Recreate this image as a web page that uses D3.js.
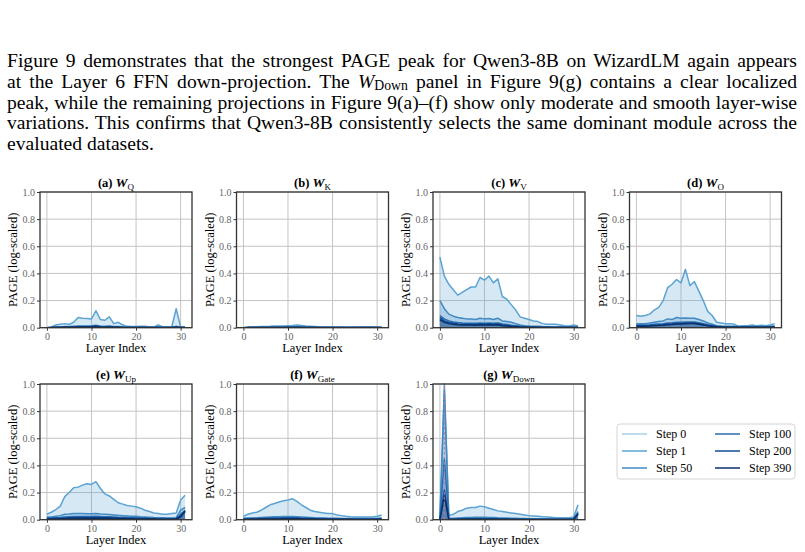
<!DOCTYPE html>
<html>
<head>
<meta charset="utf-8">
<script src="https://cdn.jsdelivr.net/npm/d3@7"></script>
<style>
  body { margin: 0; background: #fff; }
  #page { position: relative; width: 805px; height: 552px; overflow: hidden; }
  #para {
    position: absolute; left: 7px; top: 51px; width: 790px;
    font-family: "Liberation Serif", "Times New Roman", serif;
    font-size: 19.6px; line-height: 20.8px; color: #000;
  }
  #para .ln { text-align: justify; text-align-last: justify; height: 20.8px; }
  #para .ln.last { text-align-last: left; }
  #para sub { font-size: 0.7em; vertical-align: -0.15em; line-height: 0; }
  svg { position: absolute; left: 0; top: 0; }
</style>
</head>
<body>
<div id="page">
  <div id="para"></div>
  <svg id="fig" width="805" height="552"></svg>
</div>
<script>
// paragraph lines (as broken in the reference)
const paraLines = [
  "Figure 9 demonstrates that the strongest PAGE peak for Qwen3-8B on WizardLM again appears",
  "at the Layer 6 FFN down-projection. The <i>W</i><sub>Down</sub> panel in Figure 9(g) contains a clear localized",
  "peak, while the remaining projections in Figure 9(a)–(f) show only moderate and smooth layer-wise",
  "variations. This confirms that Qwen3-8B consistently selects the same dominant module across the",
  "evaluated datasets."
];

const layers = d3.range(32);
const steps = ["Step 0", "Step 1", "Step 50", "Step 100", "Step 200", "Step 390"];
const stepColors = ["#a9cfe6", "#5aa3d3", "#4189c3", "#2b6db0", "#0d4e98", "#08306b"];
const xTicks = [0, 10, 20, 30];
const yTicks = [0, 0.2, 0.4, 0.6, 0.8, 1.0];

const step0 = [0,0,0,0,0,0,0,0,0,0,0,0,0,0,0,0,0,0,0,0,0,0,0,0,0,0,0,0,0,0,0,0];

// (a) W_Q
const qS1   = [0,0.005,0.02,0.025,0.03,0.025,0.04,0.075,0.07,0.068,0.065,0.125,0.06,0.055,0.08,0.03,0.04,0.02,0.01,0.008,0.008,0.01,0.01,0.005,0.005,0.02,0.005,0.005,0.005,0.14,0.005,0.005];
const qS50  = [0,0.002,0.005,0.006,0.008,0.008,0.01,0.012,0.012,0.013,0.014,0.018,0.012,0.01,0.012,0.008,0.008,0.005,0.004,0.003,0.003,0.003,0.003,0.002,0.002,0.004,0.002,0.002,0.002,0.01,0.002,0.002];
const qS100 = [0,0.001,0.003,0.004,0.005,0.005,0.006,0.008,0.008,0.009,0.01,0.012,0.008,0.007,0.008,0.005,0.005,0.003,0.002,0.002,0.002,0.002,0.002,0.001,0.001,0.003,0.001,0.001,0.001,0.006,0.001,0.001];
const qS200 = [0,0.001,0.002,0.003,0.004,0.004,0.005,0.006,0.006,0.007,0.008,0.01,0.006,0.005,0.006,0.004,0.004,0.002,0.002,0.001,0.001,0.001,0.001,0.001,0.001,0.002,0.001,0.001,0.001,0.004,0.001,0.001];
const qS390 = [0,0.001,0.002,0.002,0.003,0.003,0.004,0.005,0.005,0.006,0.006,0.008,0.005,0.004,0.005,0.003,0.003,0.002,0.001,0.001,0.001,0.001,0.001,0.001,0.001,0.002,0.001,0.001,0.001,0.003,0.001,0.001];

// (b) W_K
const kS1   = [0,0.002,0.005,0.006,0.008,0.008,0.01,0.013,0.012,0.013,0.015,0.017,0.02,0.016,0.012,0.01,0.008,0.006,0.004,0.003,0.003,0.003,0.003,0.002,0.002,0.003,0.003,0.004,0.005,0.004,0.002,0.002];
const kS50  = [0,0.001,0.002,0.003,0.003,0.003,0.004,0.005,0.005,0.005,0.006,0.006,0.007,0.006,0.005,0.004,0.003,0.002,0.002,0.001,0.001,0.001,0.001,0.001,0.001,0.001,0.001,0.002,0.002,0.002,0.001,0.001];
const kS100 = [0,0.001,0.001,0.002,0.002,0.002,0.003,0.003,0.003,0.003,0.004,0.004,0.005,0.004,0.003,0.003,0.002,0.002,0.001,0.001,0.001,0.001,0.001,0.001,0.001,0.001,0.001,0.001,0.001,0.001,0.001,0.001];
const kS200 = [0,0.001,0.001,0.001,0.002,0.002,0.002,0.002,0.002,0.002,0.003,0.003,0.003,0.003,0.002,0.002,0.002,0.001,0.001,0.001,0.001,0.001,0.001,0.001,0.001,0.001,0.001,0.001,0.001,0.001,0.001,0.001];
const kS390 = [0,0.001,0.001,0.001,0.001,0.001,0.002,0.002,0.002,0.002,0.002,0.002,0.002,0.002,0.002,0.001,0.001,0.001,0.001,0.001,0.001,0.001,0.001,0.001,0.001,0.001,0.001,0.001,0.001,0.001,0.001,0.001];

// (c) W_V
const vS1   = [0.52,0.38,0.32,0.28,0.24,0.26,0.28,0.30,0.30,0.37,0.35,0.38,0.33,0.36,0.23,0.21,0.17,0.13,0.08,0.07,0.06,0.05,0.045,0.03,0.025,0.025,0.025,0.02,0.015,0.012,0.02,0.012];
const vS50  = [0.20,0.14,0.10,0.085,0.075,0.07,0.065,0.065,0.06,0.07,0.065,0.068,0.06,0.07,0.05,0.045,0.04,0.03,0.02,0.015,0.012,0.01,0.01,0.008,0.007,0.006,0.006,0.005,0.005,0.005,0.005,0.005];
const vS100 = [0.09,0.065,0.05,0.042,0.038,0.035,0.033,0.033,0.032,0.035,0.033,0.034,0.032,0.035,0.028,0.024,0.018,0.014,0.01,0.008,0.006,0.005,0.005,0.004,0.004,0.003,0.003,0.003,0.003,0.003,0.003,0.003];
const vS200 = [0.075,0.05,0.038,0.032,0.028,0.026,0.025,0.025,0.024,0.027,0.026,0.027,0.025,0.028,0.02,0.017,0.013,0.01,0.007,0.005,0.004,0.004,0.003,0.003,0.003,0.002,0.002,0.002,0.002,0.002,0.002,0.002];
const vS390 = [0.06,0.04,0.03,0.025,0.021,0.02,0.019,0.019,0.018,0.021,0.02,0.021,0.019,0.022,0.015,0.012,0.009,0.007,0.005,0.004,0.003,0.003,0.002,0.002,0.002,0.002,0.002,0.002,0.002,0.002,0.002,0.002];

// (d) W_O
const oS1   = [0.09,0.085,0.09,0.1,0.13,0.15,0.2,0.295,0.32,0.355,0.33,0.43,0.31,0.34,0.27,0.2,0.12,0.09,0.04,0.035,0.03,0.03,0.025,0.01,0.015,0.015,0.02,0.015,0.018,0.015,0.02,0.03];
const oS50  = [0.03,0.03,0.03,0.035,0.04,0.045,0.05,0.065,0.06,0.075,0.07,0.072,0.07,0.07,0.06,0.05,0.035,0.025,0.015,0.012,0.01,0.01,0.01,0.008,0.008,0.008,0.009,0.008,0.009,0.008,0.01,0.012];
const oS100 = [0.02,0.02,0.02,0.022,0.025,0.028,0.03,0.035,0.036,0.04,0.04,0.042,0.042,0.042,0.037,0.03,0.022,0.016,0.01,0.008,0.007,0.007,0.006,0.005,0.005,0.005,0.006,0.005,0.006,0.005,0.006,0.008];
const oS200 = [0.014,0.014,0.015,0.016,0.018,0.02,0.022,0.027,0.028,0.031,0.031,0.034,0.035,0.035,0.03,0.024,0.017,0.012,0.008,0.006,0.005,0.005,0.005,0.004,0.004,0.004,0.004,0.004,0.004,0.004,0.005,0.006];
const oS390 = [0.01,0.01,0.011,0.012,0.014,0.016,0.018,0.022,0.024,0.027,0.027,0.03,0.031,0.031,0.026,0.02,0.014,0.01,0.006,0.005,0.004,0.004,0.004,0.003,0.003,0.003,0.003,0.003,0.003,0.003,0.004,0.005];

// (e) W_Up
const uS1   = [0.04,0.055,0.075,0.1,0.17,0.2,0.235,0.24,0.255,0.265,0.26,0.28,0.23,0.19,0.175,0.15,0.125,0.115,0.105,0.1,0.095,0.085,0.07,0.06,0.05,0.045,0.04,0.04,0.045,0.05,0.145,0.18];
const uS50  = [0.02,0.02,0.025,0.03,0.04,0.042,0.045,0.045,0.045,0.044,0.043,0.045,0.042,0.04,0.038,0.035,0.032,0.03,0.028,0.026,0.025,0.022,0.02,0.018,0.016,0.015,0.014,0.013,0.013,0.015,0.07,0.09];
const uS100 = [0.012,0.012,0.014,0.016,0.02,0.022,0.024,0.024,0.024,0.024,0.024,0.025,0.023,0.022,0.021,0.02,0.018,0.017,0.016,0.015,0.014,0.013,0.012,0.011,0.01,0.009,0.009,0.008,0.008,0.01,0.04,0.07];
const uS200 = [0.008,0.008,0.01,0.011,0.013,0.014,0.015,0.016,0.016,0.016,0.016,0.017,0.016,0.015,0.014,0.013,0.012,0.011,0.01,0.01,0.009,0.009,0.008,0.007,0.007,0.006,0.006,0.006,0.006,0.007,0.03,0.065];
const uS390 = [0.005,0.005,0.006,0.007,0.008,0.009,0.01,0.011,0.011,0.011,0.011,0.012,0.011,0.01,0.01,0.009,0.008,0.008,0.007,0.007,0.006,0.006,0.005,0.005,0.005,0.004,0.004,0.004,0.004,0.005,0.02,0.06];

// (f) W_Gate
const gS1   = [0.025,0.04,0.05,0.055,0.07,0.09,0.11,0.12,0.13,0.14,0.145,0.155,0.135,0.11,0.09,0.07,0.06,0.055,0.05,0.045,0.045,0.035,0.03,0.025,0.022,0.02,0.02,0.02,0.02,0.02,0.025,0.035];
const gS50  = [0.01,0.012,0.013,0.014,0.016,0.018,0.02,0.021,0.022,0.023,0.023,0.024,0.022,0.02,0.018,0.016,0.014,0.013,0.012,0.011,0.011,0.01,0.009,0.008,0.008,0.008,0.008,0.008,0.008,0.008,0.009,0.012];
const gS100 = [0.006,0.007,0.008,0.009,0.01,0.011,0.012,0.013,0.013,0.014,0.014,0.015,0.014,0.012,0.011,0.01,0.009,0.008,0.008,0.007,0.007,0.006,0.006,0.005,0.005,0.005,0.005,0.005,0.005,0.005,0.006,0.008];
const gS200 = [0.004,0.005,0.005,0.006,0.007,0.008,0.008,0.009,0.009,0.01,0.01,0.01,0.01,0.009,0.008,0.007,0.006,0.006,0.005,0.005,0.005,0.004,0.004,0.004,0.004,0.003,0.003,0.003,0.003,0.003,0.004,0.006];
const gS390 = [0.003,0.003,0.004,0.004,0.005,0.005,0.006,0.006,0.006,0.007,0.007,0.007,0.007,0.006,0.006,0.005,0.005,0.004,0.004,0.004,0.003,0.003,0.003,0.003,0.003,0.002,0.002,0.002,0.002,0.002,0.003,0.004];

// (g) W_Down
const dS1   = [0,1.0,0.03,0.04,0.06,0.07,0.085,0.09,0.09,0.1,0.095,0.085,0.075,0.065,0.06,0.055,0.05,0.045,0.04,0.035,0.03,0.028,0.025,0.022,0.02,0.018,0.015,0.015,0.015,0.015,0.02,0.11];
const dS50  = [0,0.95,0.008,0.01,0.012,0.014,0.016,0.017,0.018,0.018,0.018,0.017,0.016,0.014,0.013,0.012,0.011,0.01,0.009,0.008,0.007,0.007,0.006,0.006,0.005,0.005,0.005,0.005,0.005,0.005,0.008,0.06];
const dS100 = [0,0.45,0.004,0.005,0.006,0.007,0.008,0.008,0.009,0.009,0.009,0.008,0.008,0.007,0.006,0.006,0.005,0.005,0.004,0.004,0.004,0.003,0.003,0.003,0.003,0.003,0.003,0.003,0.003,0.003,0.005,0.05];
const dS200 = [0,0.22,0.003,0.003,0.004,0.004,0.005,0.005,0.005,0.006,0.006,0.005,0.005,0.004,0.004,0.004,0.003,0.003,0.003,0.003,0.002,0.002,0.002,0.002,0.002,0.002,0.002,0.002,0.002,0.002,0.004,0.045];
const dS390 = [0,0.17,0.002,0.002,0.003,0.003,0.003,0.004,0.004,0.004,0.004,0.004,0.003,0.003,0.003,0.003,0.002,0.002,0.002,0.002,0.002,0.002,0.002,0.002,0.002,0.002,0.002,0.002,0.002,0.002,0.003,0.04];

const peakLayer = 1; // dashed marker in (g)

const panels = [
  { tag: "(a) ", sub: "Q",    col: 0, row: 0, series: [step0, qS1, qS50, qS100, qS200, qS390] },
  { tag: "(b) ", sub: "K",    col: 1, row: 0, series: [step0, kS1, kS50, kS100, kS200, kS390] },
  { tag: "(c) ", sub: "V",    col: 2, row: 0, series: [step0, vS1, vS50, vS100, vS200, vS390] },
  { tag: "(d) ", sub: "O",    col: 3, row: 0, series: [step0, oS1, oS50, oS100, oS200, oS390] },
  { tag: "(e) ", sub: "Up",   col: 0, row: 1, series: [step0, uS1, uS50, uS100, uS200, uS390] },
  { tag: "(f) ", sub: "Gate", col: 1, row: 1, series: [step0, gS1, gS50, gS100, gS200, gS390] },
  { tag: "(g) ", sub: "Down", col: 2, row: 1, series: [step0, dS1, dS50, dS100, dS200, dS390], peak: true }
];

// ---- paragraph
d3.select("#para").selectAll("div")
  .data(paraLines)
  .join("div")
  .attr("class", (d, i) => i === paraLines.length - 1 ? "ln last" : "ln")
  .html(d => d);

// ---- figure
const svg = d3.select("#fig");
const serif = "'Liberation Serif', 'Times New Roman', serif";
const colX = [40, 236.5, 433, 629.5],
  rowY = [192, 384],
  pw = 152,
  ph = 135.7;

panels.forEach((p, pi) => {
  const x0 = colX[p.col], y0 = rowY[p.row];
  const x = d3.scaleLinear().domain([-1.55, 32.55]).range([x0, x0 + pw]);
  const y = d3.scaleLinear().domain([0, 1]).range([y0 + ph, y0]);
  const g = svg.append("g");

  g.append("clipPath").attr("id", "clip" + pi)
    .append("rect").attr("x", x0).attr("y", y0 - 1).attr("width", pw).attr("height", ph + 1);

  // grid
  g.selectAll(".vg").data(xTicks).join("line")
    .attr("x1", d => x(d)).attr("x2", d => x(d))
    .attr("y1", y0).attr("y2", y0 + ph)
    .attr("stroke", "#c4c4c4").attr("stroke-width", 1);
  g.selectAll(".hg").data(yTicks).join("line")
    .attr("x1", x0).attr("x2", x0 + pw)
    .attr("y1", d => y(d)).attr("y2", d => y(d))
    .attr("stroke", "#c4c4c4").attr("stroke-width", 1);

  const plot = g.append("g").attr("clip-path", "url(#clip" + pi + ")");
  const area = d3.area().x((d, i) => x(layers[i])).y0(y(0)).y1(d => y(d));
  const line = d3.line().x((d, i) => x(layers[i])).y(d => y(d));

  p.series.forEach((s, i) => {
    plot.append("path").datum(s)
      .attr("d", area)
      .attr("fill", stepColors[i]).attr("fill-opacity", 0.25);
    plot.append("path").datum(s)
      .attr("d", line)
      .attr("fill", "none")
      .attr("stroke", stepColors[i]).attr("stroke-width", 1.5)
      .attr("stroke-linejoin", "round");
  });

  if (p.peak) {
    plot.append("line")
      .attr("x1", x(peakLayer)).attr("x2", x(peakLayer))
      .attr("y1", y(0)).attr("y2", y(1))
      .attr("stroke", "#c4788c").attr("stroke-width", 1.2)
      .attr("stroke-dasharray", "3,2").attr("opacity", 0.85);
  }

  // axes
  const ax = g.append("g").attr("transform", `translate(0,${y0 + ph})`)
    .call(d3.axisBottom(x).tickValues(xTicks).tickSize(3).tickPadding(2));
  const ay = g.append("g").attr("transform", `translate(${x0},0)`)
    .call(d3.axisLeft(y).tickValues(yTicks).tickFormat(d3.format(".1f")).tickSize(3).tickPadding(2));
  [ax, ay].forEach(a => {
    a.select(".domain").remove();
    a.selectAll(".tick line").attr("stroke", "#333");
    a.selectAll(".tick text").attr("fill", "#666")
      .style("font-family", serif).style("font-size", "10px");
  });

  // spines
  g.append("rect")
    .attr("x", x0).attr("y", y0).attr("width", pw).attr("height", ph)
    .attr("fill", "none").attr("stroke", "#333").attr("stroke-width", 1.3);

  // title
  const t = g.append("text")
    .attr("x", x0 + pw / 2).attr("y", y0 - 5)
    .attr("text-anchor", "middle")
    .style("font-family", serif).style("font-size", "12.5px").style("font-weight", "bold");
  t.append("tspan").text(p.tag);
  t.append("tspan").style("font-style", "italic").style("font-size", "13.5px").text("W");
  t.append("tspan").attr("dy", 2.5).style("font-size", "9px").style("font-weight", "normal").text(p.sub);

  // axis labels
  g.append("text")
    .attr("x", x0 + pw / 2).attr("y", y0 + ph + 24)
    .attr("text-anchor", "middle")
    .style("font-family", serif).style("font-size", "12.5px")
    .text("Layer Index");
  g.append("text")
    .attr("transform", `translate(${x0 - 27},${y0 + ph / 2}) rotate(-90)`)
    .attr("text-anchor", "middle")
    .attr("dy", "0.35em")
    .style("font-family", serif).style("font-size", "12.5px")
    .text("PAGE (log-scaled)");
});

// ---- legend
const lg = svg.append("g");
lg.append("rect")
  .attr("x", 617).attr("y", 424).attr("width", 178).attr("height", 55)
  .attr("rx", 3).attr("fill", "#fff").attr("stroke", "#d4d4d4");
const item = lg.selectAll(".item").data(steps).join("g")
  .attr("transform", (d, i) => `translate(${i < 3 ? 622 : 715},${434 + (i % 3) * 17})`);
item.append("line")
  .attr("x1", 0).attr("x2", 25).attr("y1", 0).attr("y2", 0)
  .attr("stroke", (d, i) => stepColors[i]).attr("stroke-width", 1.5);
item.append("text")
  .attr("x", 34).attr("y", 4)
  .style("font-family", serif).style("font-size", "12px")
  .text(d => d);
</script>
</body>
</html>
